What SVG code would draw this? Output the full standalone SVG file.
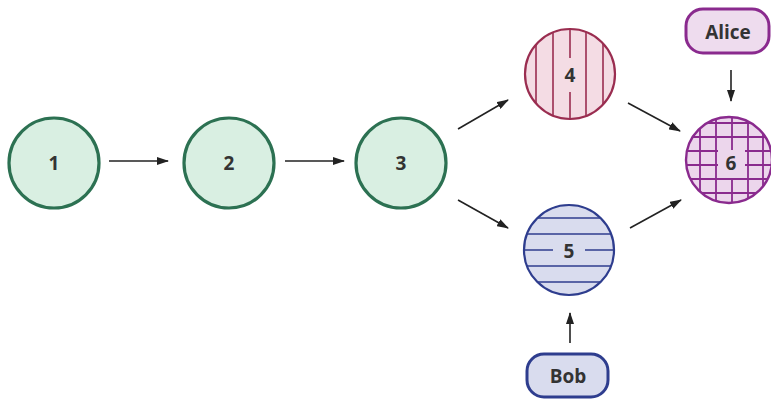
<svg xmlns="http://www.w3.org/2000/svg" width="771" height="404" viewBox="0 0 771 404">
<defs>
<style>
.lbl{font-family:"Open Sans","Noto Sans",sans-serif;font-weight:700;font-size:19px;fill:#333;text-anchor:middle;dominant-baseline:central}
.g{fill:#d9efe2;stroke:#2c7152;stroke-width:3.2}
.c{stroke:#222;stroke-width:1.6;fill:none;marker-end:url(#ah)}
</style>
<marker id="ah" viewBox="0 0 12 8" refX="11" refY="4" markerWidth="12" markerHeight="8" markerUnits="userSpaceOnUse" orient="auto">
<path d="M0,0 L12,4 L0,8 Z" fill="#222"/>
</marker>
<clipPath id="c4"><circle cx="570" cy="74" r="45"/></clipPath>
<clipPath id="c5"><circle cx="569" cy="250" r="45"/></clipPath>
<clipPath id="c6"><circle cx="729" cy="160" r="43"/></clipPath>
</defs>
<rect width="771" height="404" fill="#fff"/>
<g id="connectors">
<line class="c" x1="109" y1="161" x2="168" y2="161"/>
<line class="c" x1="285" y1="161" x2="344" y2="161"/>
<line class="c" x1="458" y1="129" x2="508" y2="100"/>
<line class="c" x1="458" y1="200" x2="508" y2="228"/>
<line class="c" x1="628" y1="103" x2="680" y2="131"/>
<line class="c" x1="630" y1="228" x2="681" y2="200"/>
<line class="c" x1="731" y1="70" x2="731" y2="101"/>
<line class="c" x1="570" y1="343" x2="570" y2="313"/>
</g>
<g id="n1"><circle class="g" cx="54" cy="163" r="45"/><text class="lbl" x="54" y="163">1</text></g>
<g id="n2"><circle class="g" cx="229" cy="163" r="45"/><text class="lbl" x="229" y="163">2</text></g>
<g id="n3"><circle class="g" cx="401" cy="163" r="45"/><text class="lbl" x="401" y="163">3</text></g>
<g id="n4">
<circle cx="570" cy="74" r="45" fill="#f4dce4"/>
<g clip-path="url(#c4)" stroke="#9a2d50" stroke-width="1.6">
<line x1="536" y1="20" x2="536" y2="130"/><line x1="553" y1="20" x2="553" y2="130"/><line x1="570" y1="20" x2="570" y2="130"/><line x1="586" y1="20" x2="586" y2="130"/><line x1="603" y1="20" x2="603" y2="130"/>
</g>
<rect x="561" y="58" width="18" height="34" fill="#f4dce4"/>
<circle cx="570" cy="74" r="45" fill="none" stroke="#9a2d50" stroke-width="2.2"/>
<text class="lbl" x="570" y="75">4</text>
</g>
<g id="n5">
<circle cx="569" cy="250" r="45" fill="#d9dcee"/>
<g clip-path="url(#c5)" stroke="#2e3d8e" stroke-width="1.6">
<line x1="520" y1="218" x2="620" y2="218"/><line x1="520" y1="234" x2="620" y2="234"/><line x1="520" y1="250" x2="620" y2="250"/><line x1="520" y1="266" x2="620" y2="266"/><line x1="520" y1="282" x2="620" y2="282"/>
</g>
<rect x="553" y="241" width="32" height="18" fill="#d9dcee"/>
<circle cx="569" cy="250" r="45" fill="none" stroke="#2e3d8e" stroke-width="2.2"/>
<text class="lbl" x="569" y="251">5</text>
</g>
<g id="n6">
<circle cx="729" cy="160" r="43" fill="#ecd6ec"/>
<g clip-path="url(#c6)" stroke="#8a2a8e" stroke-width="1.8">
<line x1="700" y1="110" x2="700" y2="210"/><line x1="716" y1="110" x2="716" y2="210"/><line x1="732" y1="110" x2="732" y2="210"/><line x1="748" y1="110" x2="748" y2="210"/><line x1="763" y1="110" x2="763" y2="210"/>
<line x1="680" y1="123" x2="780" y2="123"/><line x1="680" y1="137" x2="780" y2="137"/><line x1="680" y1="151" x2="780" y2="151"/><line x1="680" y1="165" x2="780" y2="165"/><line x1="680" y1="179" x2="780" y2="179"/><line x1="680" y1="193" x2="780" y2="193"/>
</g>
<rect x="718" y="150" width="27" height="28" fill="#ecd6ec"/>
<circle cx="729" cy="160" r="43" fill="none" stroke="#8a2a8e" stroke-width="2.4"/>
<text class="lbl" x="731" y="163">6</text>
</g>
<g id="alice">
<rect x="686" y="9" width="83" height="44" rx="17" fill="#eedcee" stroke="#8a2a8e" stroke-width="3"/>
<text class="lbl" x="728" y="32">Alice</text>
</g>
<g id="bob">
<rect x="527" y="354" width="81" height="43" rx="17" fill="#d9dcee" stroke="#2e3d8e" stroke-width="3"/>
<text class="lbl" x="568" y="376">Bob</text>
</g>
</svg>
